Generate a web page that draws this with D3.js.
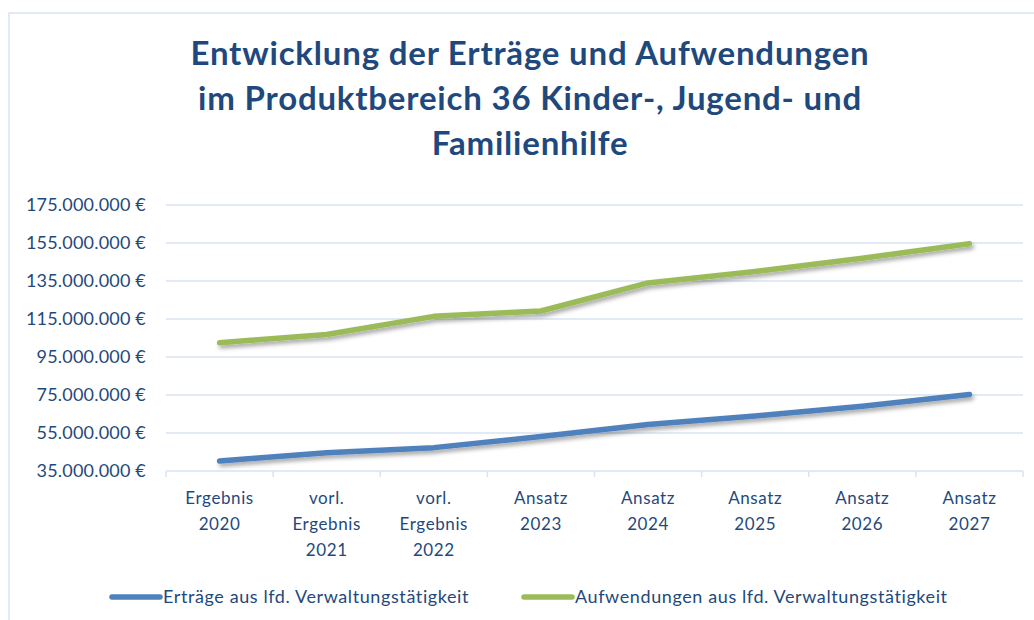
<!DOCTYPE html>
<html>
<head>
<meta charset="utf-8">
<script src="https://cdn.jsdelivr.net/npm/d3@7"></script>
<style>
  body { margin: 0; background: #fff; }
  svg { font-family: Lato, "Open Sans", sans-serif; }
</style>
</head>
<body>
<div class="chartHolder"></div>
<script>
// data
const categories = [
  ['Ergebnis', '2020'],
  ['vorl.', 'Ergebnis', '2021'],
  ['vorl.', 'Ergebnis', '2022'],
  ['Ansatz', '2023'],
  ['Ansatz', '2024'],
  ['Ansatz', '2025'],
  ['Ansatz', '2026'],
  ['Ansatz', '2027']
]
const ertraege = [40.3e6, 44.6e6, 47.3e6, 53.1e6, 59.5e6, 63.9e6, 69.1e6, 75.3e6]
const aufwendungen = [102.5e6, 106.8e6, 116.4e6, 119.2e6, 134.0e6, 140.0e6, 147.0e6, 154.6e6]
const yTicks = [35e6, 55e6, 75e6, 95e6, 115e6, 135e6, 155e6, 175e6]
const seriesNames = ['Erträge aus lfd. Verwaltungstätigkeit', 'Aufwendungen aus lfd. Verwaltungstätigkeit']
const titleLines = ['Entwicklung der Erträge und Aufwendungen', 'im Produktbereich 36 Kinder-, Jugend- und', 'Familienhilfe']

const W = 1034, H = 620
const margin = { top: 205, right: 11, bottom: 149, left: 166 }
const width = W - margin.left - margin.right
const height = H - margin.top - margin.bottom
const textColor = '#1f497d'
const gridColor = '#d9e4f2'
const colors = ['#4f81bd', '#9bbb59']

const de = d3.formatLocale({ decimal: ',', thousands: '.', grouping: [3], currency: ['', ' €'] })
const fmt = v => de.format(',.0f')(v) + ' €'

const svg = d3.select('.chartHolder').append('svg')
  .attr('width', W)
  .attr('height', H)

const defs = svg.append('defs')
defs.append('filter')
  .attr('id', 'shadow')
  .attr('x', '-5%').attr('y', '-50%')
  .attr('width', '110%').attr('height', '200%')
  .append('feDropShadow')
  .attr('dx', 2).attr('dy', 3)
  .attr('stdDeviation', 2)
  .attr('flood-color', '#000')
  .attr('flood-opacity', 0.35)

// chart frame
svg.append('rect')
  .attr('x', 9).attr('y', 13)
  .attr('width', W + 10).attr('height', H + 10)
  .attr('fill', 'none')
  .attr('stroke', gridColor)
  .attr('stroke-width', 1.5)

// title
svg.append('text')
  .attr('x', 530)
  .attr('text-anchor', 'middle')
  .attr('fill', textColor)
  .style('font-weight', 'bold')
  .style('font-size', '33px')
  .style('letter-spacing', '0.8px')
  .selectAll('tspan')
  .data(titleLines)
  .join('tspan')
  .attr('x', 530)
  .attr('y', (d, i) => 65 + i * 45)
  .text(d => d)

const graph = svg.append('g')
  .attr('transform', `translate(${margin.left},${margin.top})`)

const xScale = d3.scaleBand()
  .domain(d3.range(categories.length))
  .range([0, width])

const yScale = d3.scaleLinear()
  .domain([35e6, 175e6])
  .range([height, 0])

// grid
graph.append('g')
  .selectAll('line')
  .data(yTicks)
  .join('line')
  .attr('x1', 0).attr('x2', width)
  .attr('y1', d => yScale(d)).attr('y2', d => yScale(d))
  .attr('stroke', gridColor)
  .attr('stroke-width', 1.5)

const yAxis = d3.axisLeft(yScale)
  .tickValues(yTicks)
  .tickFormat(fmt)
  .tickSize(0)
  .tickPadding(20)
const yAxisGroup = graph.append('g').call(yAxis)
yAxisGroup.select('.domain').remove()
yAxisGroup.selectAll('text')
  .attr('fill', textColor)
  .style('font-size', '18px')
  .style('letter-spacing', '0.2px')
  .style('font-family', 'Lato, sans-serif')

// x axis with ticks at band edges
const xAxisGroup = graph.append('g')
  .attr('transform', `translate(0,${height})`)
xAxisGroup.selectAll('line')
  .data(d3.range(categories.length + 1))
  .join('line')
  .attr('x1', i => i < categories.length ? xScale(i) : width)
  .attr('x2', i => i < categories.length ? xScale(i) : width)
  .attr('y1', 0).attr('y2', 6)
  .attr('stroke', gridColor)
  .attr('stroke-width', 1.5)
xAxisGroup.selectAll('text')
  .data(categories)
  .join('text')
  .attr('text-anchor', 'middle')
  .attr('fill', textColor)
  .style('font-size', '17px')
  .style('letter-spacing', '0.6px')
  .selectAll('tspan')
  .data((d, i) => d.map(t => ({ t, i })))
  .join('tspan')
  .attr('x', d => xScale(d.i) + xScale.bandwidth() / 2)
  .attr('y', (d, j) => 33 + j * 26)
  .text(d => d.t)

// lines
const line = d3.line()
  .x((d, i) => xScale(i) + xScale.bandwidth() / 2)
  .y(d => yScale(d))

graph.selectAll('path.series')
  .data([ertraege, aufwendungen])
  .join('path')
  .attr('class', 'series')
  .attr('d', line)
  .attr('fill', 'none')
  .attr('stroke', (d, i) => colors[i])
  .attr('stroke-width', 5.5)
  .attr('stroke-linecap', 'round')
  .attr('stroke-linejoin', 'round')
  .attr('filter', 'url(#shadow)')

// legend
const legendX = [112, 524]
const legend = svg.append('g')
legend.selectAll('line')
  .data(seriesNames)
  .join('line')
  .attr('x1', (d, i) => legendX[i]).attr('x2', (d, i) => legendX[i] + 48)
  .attr('y1', 597).attr('y2', 597)
  .attr('stroke', (d, i) => colors[i])
  .attr('stroke-width', 5.5)
  .attr('stroke-linecap', 'round')
legend.selectAll('text')
  .data(seriesNames)
  .join('text')
  .attr('x', (d, i) => legendX[i] + 51)
  .attr('y', 603)
  .attr('fill', textColor)
  .style('font-size', '18px')
  .style('letter-spacing', '0.6px')
  .text(d => d)
</script>
</body>
</html>
